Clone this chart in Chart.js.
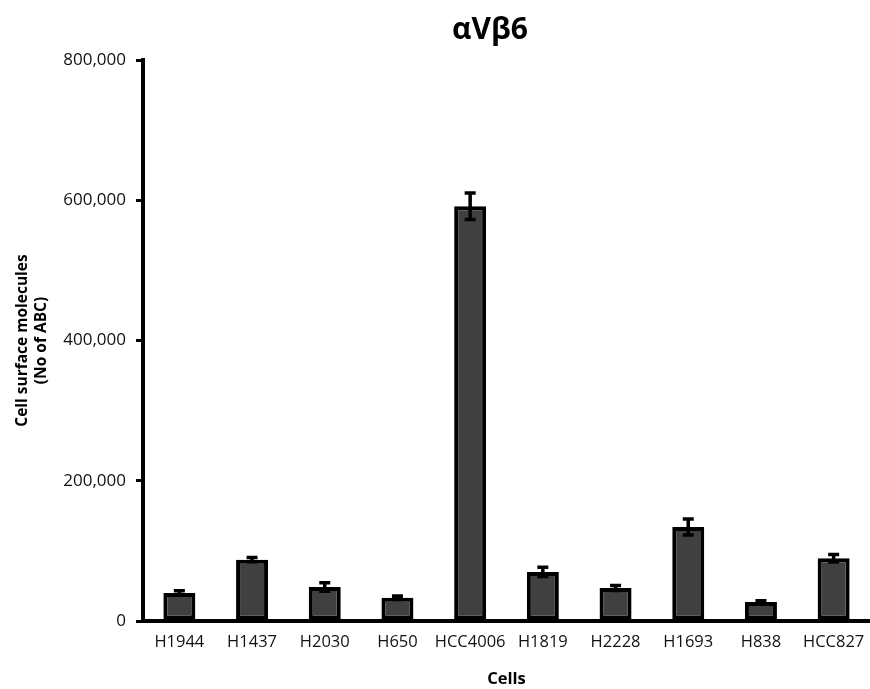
<!DOCTYPE html>
<html>
<head>
<meta charset="utf-8">
<script src="https://cdn.jsdelivr.net/npm/chart.js@4/dist/chart.umd.min.js"></script>
<style>
  html, body { margin: 0; padding: 0; background: #fff; }
  #wrap { width: 870px; height: 689px; position: relative; }
</style>
</head>
<body>
<div id="wrap"><canvas id="c" width="870" height="689"></canvas></div>
<script>
const categories = ["H1944", "H1437", "H2030", "H650", "HCC4006", "H1819", "H2228", "H1693", "H838", "HCC827"];
const values = [40000, 87500, 48500, 33000, 591500, 70000, 47000, 134000, 27000, 89500];
const errors = [3000, 3000, 6000, 2500, 19000, 6500, 3500, 11500, 2000, 5500];
const yTicks = [0, 200000, 400000, 600000, 800000];
const chartTitle = "αVβ6";
const yTitle = ["Cell surface molecules", "(No of ABC)"];
const xTitle = "Cells";

const FONT = "'Open Sans', sans-serif";

const errorBarPlugin = {
  id: 'errorBars',
  afterDatasetsDraw(chart) {
    const ctx = chart.ctx;
    const meta = chart.getDatasetMeta(0);
    const y = chart.scales.y;
    ctx.save();
    ctx.strokeStyle = '#000';
    ctx.lineWidth = 3.5;
    meta.data.forEach((bar, i) => {
      const v = values[i], e = errors[i];
      const yTop = y.getPixelForValue(v + e);
      const yBot = y.getPixelForValue(v - e);
      const x = bar.x;
      ctx.beginPath();
      ctx.moveTo(x, yTop); ctx.lineTo(x, yBot);
      ctx.moveTo(x - 5.5, yTop); ctx.lineTo(x + 5.5, yTop);
      ctx.moveTo(x - 5.5, yBot); ctx.lineTo(x + 5.5, yBot);
      ctx.stroke();
    });
    ctx.restore();
  }
};

const titlePlugin = {
  id: 'customTitle',
  afterDraw(chart) {
    const ctx = chart.ctx;
    ctx.save();
    ctx.font = "bold 30px " + FONT;
    ctx.fillStyle = '#000';
    ctx.textAlign = 'center';
    ctx.textBaseline = 'middle';
    ctx.fillText(chartTitle, 490, 30);
    ctx.restore();
  }
};

new Chart(document.getElementById('c'), {
  type: 'bar',
  data: {
    labels: categories,
    datasets: [{
      data: values,
      backgroundColor: '#404040',
      borderColor: '#000',
      borderWidth: 4,
      borderSkipped: false,
      barPercentage: 0.44,
      categoryPercentage: 1.0
    }]
  },
  options: {
    responsive: false,
    animation: false,
    devicePixelRatio: 1,
    layout: { padding: { top: 60, left: 0, right: 0, bottom: 0 } },
    plugins: {
      legend: { display: false },
      tooltip: { enabled: false },
      title: { display: false }
    },
    scales: {
      x: {
        grid: { display: false, drawTicks: false },
        border: { display: true, color: '#000', width: 4 },
        ticks: { color: '#111', font: { family: FONT, size: 16.5 }, padding: 11, maxRotation: 0, autoSkip: false },
        title: { display: true, text: xTitle, color: '#000', font: { family: FONT, size: 16.5, weight: 'bold' }, padding: { top: 5, bottom: 0 } },
        afterFit(scale) { scale.height = 68; scale.paddingLeft = 0; scale.paddingRight = 0; }
      },
      y: {
        min: 0,
        max: 800000,
        afterBuildTicks(scale) { scale.ticks = yTicks.map(v => ({ value: v })); },
        grid: { display: true, drawOnChartArea: false, drawTicks: true, tickLength: 7, color: '#000', lineWidth: 3 },
        border: { display: true, color: '#000', width: 4 },
        ticks: {
          color: '#111',
          font: { family: FONT, size: 17 },
          padding: 10,
          callback: (v) => Number(v).toLocaleString('en-US')
        },
        title: { display: true, text: yTitle, color: '#000', font: { family: FONT, size: 15.5, weight: 'bold', lineHeight: 1.25 }, padding: { top: 13, bottom: 4 } },
        afterFit(scale) { scale.width = 143; }
      }
    }
  },
  plugins: [errorBarPlugin, titlePlugin]
});
</script>
</body>
</html>
